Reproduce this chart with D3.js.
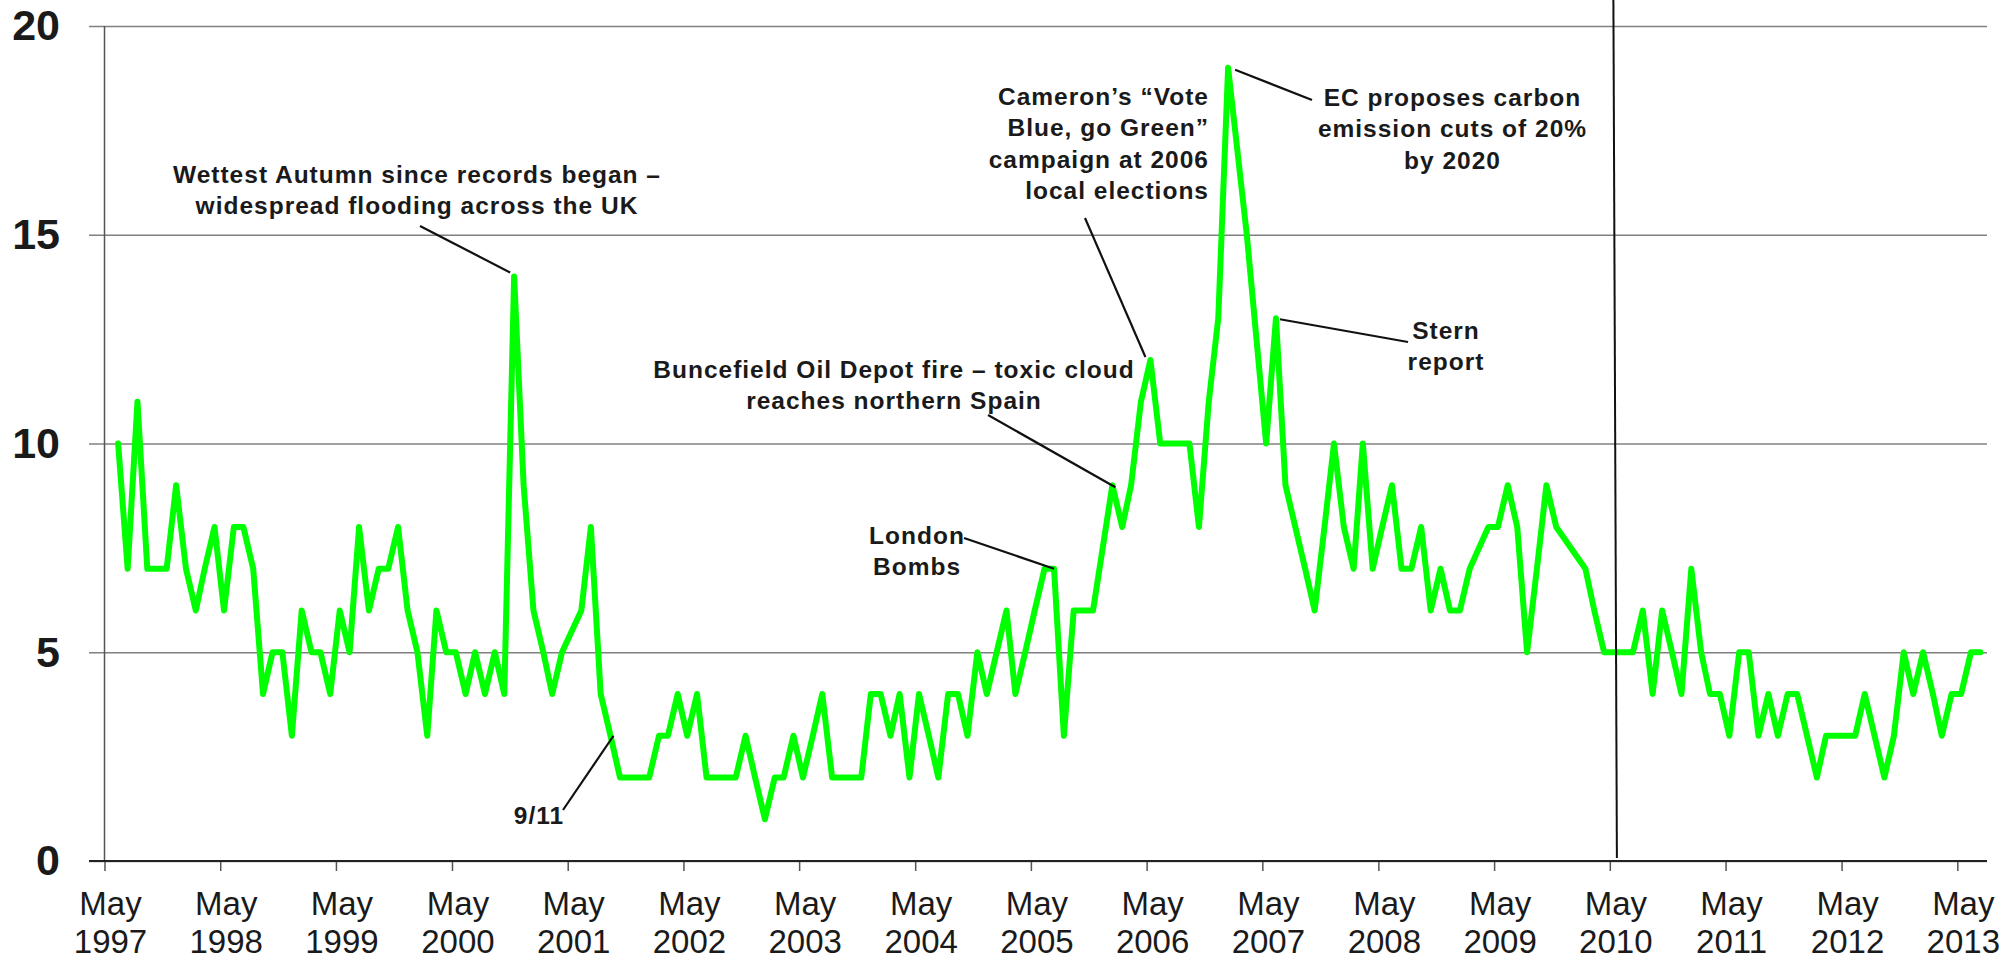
<!DOCTYPE html>
<html><head><meta charset="utf-8">
<script src="https://cdn.jsdelivr.net/npm/d3@7"></script>
<style>
body{margin:0;background:#fff}
svg{display:block}
text{font-family:"Liberation Sans",Arial,Helvetica,sans-serif}
</style>
</head><body>
<svg id="chart" width="2013" height="959"></svg>
<script>
// ---------------- DATA ----------------
// First plotted month: June 1997 (year, 0-based month). One value per month; null = no reading.
const firstMonth = [1997, 5];
const values = [
  /*1997 Jun-Dec*/ 10,7,11,7,7,7,9,
  /*1998*/ 7,6,7,8,6,8,8,7,4,5,5,3,
  /*1999*/ 6,5,5,4,6,5,8,6,7,7,8,6,
  /*2000*/ 5,3,6,5,5,4,5,4,5,4,14,9,
  /*2001*/ 6,5,4,5,null,6,8,4,3,2,2,2,
  /*2002*/ 2,3,3,4,3,4,2,2,2,2,3,2,
  /*2003*/ 1,2,2,3,2,3,4,2,2,2,2,4,
  /*2004*/ 4,3,4,2,4,3,2,4,4,3,5,4,
  /*2005*/ 5,6,4,5,6,7,7,3,6,6,6,null,
  /*2006*/ 9,8,9,11,12,10,10,10,10,8,11,13,
  /*2007*/ 19,null,15,null,10,13,9,8,7,6,8,10,
  /*2008*/ 8,7,10,7,8,9,7,7,8,6,7,6,
  /*2009*/ 6,7,null,8,8,9,8,5,7,9,8,null,
  /*2010*/ null,7,6,5,5,5,5,6,4,6,5,4,
  /*2011*/ 7,5,4,4,3,5,5,3,4,3,4,4,
  /*2012*/ 3,2,3,3,3,3,4,3,2,3,5,4,
  /*2013 Jan-Jul*/ 5,4,3,4,4,5,5
];
const yTicks = [0, 5, 10, 15, 20];
const xTickYears = [1997,1998,1999,2000,2001,2002,2003,2004,2005,2006,2007,2008,2009,2010,2011,2012,2013];
const xTickMonthLabel = "May";
const eventMarkerDate = [2010, 4, 17]; // May 2010 general election marker

const annotationTexts = [
  ["Wettest Autumn since records began –", "widespread flooding across the UK"],
  ["9/11"],
  ["London", "Bombs"],
  ["Buncefield Oil Depot fire – toxic cloud", "reaches northern Spain"],
  ["Cameron’s “Vote", "Blue, go Green”", "campaign at 2006", "local elections"],
  ["EC proposes carbon", "emission cuts of 20%", "by 2020"],
  ["Stern", "report"]
];
// month each annotation points to (year, 0-based month)
const annotationMonths = [[2000,10],[2001,8],[2005,6],[2006,0],[2006,4],[2007,0],[2007,5]];

// ---------------- LAYOUT ----------------
const L = {left:104.5, right:1987, top:26, bottom:861, tickEndX:1957.3, gridLeft:89};
const annLayout = [
  {tx:417,   ty:183, anchor:"middle", sx:420,  sy:226, ox:-4, oy:-4},
  {tx:539,   ty:824, anchor:"middle", sx:563,  sy:810, ox:3,  oy:0},
  {tx:917,   ty:544, anchor:"middle", sx:964,  sy:538, ox:0,  oy:0},
  {tx:894,   ty:378, anchor:"middle", sx:988,  sy:415, ox:3,  oy:2},
  {tx:1209,  ty:105, anchor:"end",    sx:1085, sy:218, ox:-5, oy:-3},
  {tx:1452.5,ty:106, anchor:"middle", sx:1312, sy:100, ox:7,  oy:2},
  {tx:1446,  ty:339, anchor:"middle", sx:1408, sy:342, ox:4,  oy:1}
];
const annLineH = 31.3;
const annFont = 24.5;

const svg = d3.select("#chart");
svg.append("rect").attr("width",2013).attr("height",959).attr("fill","#fff");

const x = d3.scaleTime()
  .domain([new Date(1997,4,1), new Date(2013,4,1)])
  .range([L.left, L.tickEndX]);
const y = d3.scaleLinear().domain([0,20]).range([L.bottom, L.top]);

const monthDate = (yr, m) => new Date(yr, m, 13);
const data = values.map((v,i) => ({date: monthDate(firstMonth[0], firstMonth[1]+i), value: v}))
                   .filter(d => d.value !== null);

// gridlines + y labels
const yAxis = svg.append("g")
  .attr("transform", `translate(${L.gridLeft},0)`)
  .call(d3.axisLeft(y).tickValues(yTicks).tickSize(-(L.right - L.gridLeft)).tickPadding(29).tickFormat(d3.format("d")));
yAxis.select(".domain").remove();
yAxis.selectAll(".tick line").attr("stroke","#808080").attr("stroke-width",1.5);
yAxis.selectAll(".tick text")
  .attr("font-size",43).attr("font-weight","bold").attr("fill","#1a1a1a")
  .attr("font-family",'"Liberation Sans",Arial,sans-serif');

// vertical y axis line
svg.append("line").attr("x1",L.left).attr("x2",L.left).attr("y1",L.top).attr("y2",L.bottom)
  .attr("stroke","#555").attr("stroke-width",1.5);

// x axis
const tickDates = xTickYears.map(yr => new Date(yr,4,1));
const xAxis = svg.append("g")
  .attr("transform", `translate(0,${L.bottom})`)
  .call(d3.axisBottom(x).tickValues(tickDates).tickSize(10).tickFormat(""));
xAxis.select(".domain").remove();
xAxis.selectAll(".tick line").attr("stroke","#555").attr("stroke-width",1.5);
svg.append("line").attr("x1",L.gridLeft).attr("x2",L.right).attr("y1",L.bottom).attr("y2",L.bottom)
  .attr("stroke","#222").attr("stroke-width",2);

const xl = svg.append("g").attr("font-size",33).attr("fill","#1a1a1a").attr("text-anchor","middle");
tickDates.forEach((d,i) => {
  const t = xl.append("text").attr("x", x(d)+6);
  t.append("tspan").attr("x", x(d)+6).attr("y", 915).text(xTickMonthLabel);
  t.append("tspan").attr("x", x(d)+6).attr("y", 953).text(xTickYears[i]);
});

// data line
svg.append("path").datum(data)
  .attr("fill","none").attr("stroke","#00ff00").attr("stroke-width",6)
  .attr("stroke-linejoin","round").attr("stroke-linecap","round")
  .attr("d", d3.line().x(d => x(d.date)).y(d => y(d.value)));

// event marker line
const ex = x(new Date(...eventMarkerDate));
svg.append("line").attr("x1",ex-1.5).attr("x2",ex+2).attr("y1",0).attr("y2",L.bottom-3)
  .attr("stroke","#111").attr("stroke-width",2);

// annotations
const ag = svg.append("g");
annotationTexts.forEach((lines,i) => {
  const lay = annLayout[i];
  const [yr,m] = annotationMonths[i];
  const pt = data.find(d => d.date.getFullYear()===yr && d.date.getMonth()===m);
  ag.append("line")
    .attr("x1",lay.sx).attr("y1",lay.sy)
    .attr("x2",x(pt.date)+lay.ox).attr("y2",y(pt.value)+lay.oy)
    .attr("stroke","#111").attr("stroke-width",2.2);
  const t = ag.append("text").attr("text-anchor",lay.anchor)
    .attr("font-size",annFont).attr("font-weight","bold").attr("fill","#1a1a1a")
    .attr("letter-spacing",1);
  lines.forEach((s,j) => t.append("tspan").attr("x",lay.tx).attr("y",lay.ty + j*annLineH).text(s));
});
</script>
</body></html>
